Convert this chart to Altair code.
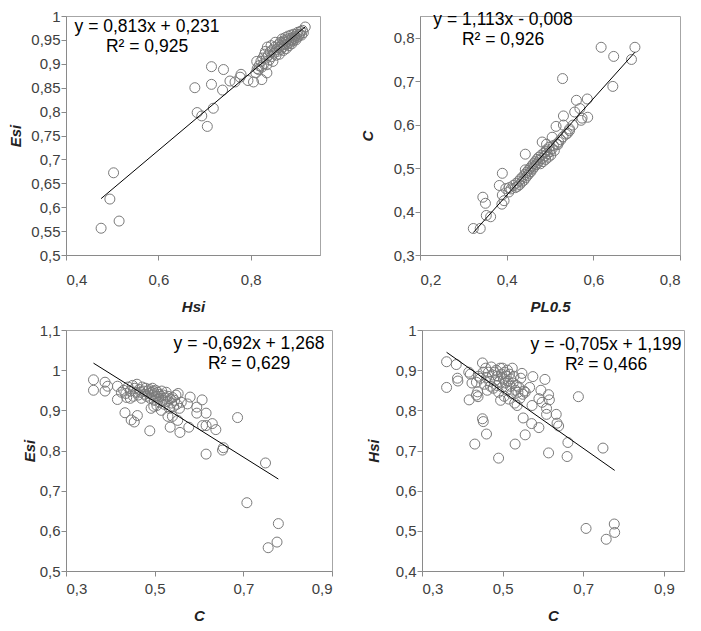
import altair as alt
import pandas as pd

# ---------------- Panel 1: Esi vs Hsi ----------------
p1_hsi = [0.476, 0.495, 0.503, 0.515, 0.679, 0.684, 0.694, 0.706, 0.715, 0.715, 0.719, 0.741, 0.739,
          0.755, 0.766, 0.779, 0.777, 0.794, 0.806, 0.824, 0.811, 0.817, 0.824, 0.813, 0.835, 0.835,
          0.814, 0.818,
          0.822, 0.826, 0.828, 0.830, 0.832, 0.834, 0.836, 0.838, 0.840, 0.842, 0.844, 0.845, 0.847,
          0.848, 0.850, 0.852, 0.853, 0.855, 0.856, 0.858, 0.860, 0.861, 0.862, 0.864, 0.865, 0.866,
          0.868, 0.869, 0.870, 0.871, 0.872, 0.874, 0.875, 0.876, 0.877, 0.878, 0.880, 0.881, 0.882,
          0.883, 0.884, 0.886, 0.887, 0.888, 0.889, 0.890, 0.892, 0.893, 0.894, 0.896, 0.898, 0.899,
          0.900, 0.902, 0.904, 0.906, 0.908, 0.910, 0.912, 0.914, 0.918]
p1_esi = [0.556, 0.617, 0.672, 0.571, 0.850, 0.798, 0.791, 0.769, 0.894, 0.857, 0.807, 0.888, 0.845,
          0.864, 0.862, 0.878, 0.872, 0.865, 0.862, 0.867, 0.881, 0.888, 0.893, 0.905, 0.881, 0.898,
          0.890, 0.896,
          0.905, 0.912, 0.900, 0.920, 0.926, 0.912, 0.935, 0.918, 0.908, 0.925, 0.938, 0.915, 0.929,
          0.905, 0.922, 0.935, 0.945, 0.918, 0.930, 0.926, 0.940, 0.934, 0.920, 0.945, 0.930, 0.938,
          0.952, 0.942, 0.935, 0.928, 0.948, 0.940, 0.955, 0.945, 0.932, 0.950, 0.942, 0.958, 0.948,
          0.938, 0.953, 0.945, 0.960, 0.950, 0.942, 0.955, 0.948, 0.962, 0.953, 0.958, 0.950, 0.962,
          0.955, 0.966, 0.958, 0.962, 0.968, 0.960, 0.970, 0.965, 0.977]

# ---------------- Panel 2: C vs PL0.5 ----------------
p2_pl = [0.323, 0.339, 0.345, 0.353, 0.363, 0.351, 0.383, 0.390, 0.390, 0.389, 0.394, 0.398, 0.406,
         0.443, 0.443, 0.482, 0.491, 0.492, 0.505, 0.514, 0.531, 0.529, 0.561, 0.586, 0.587, 0.569,
         0.574, 0.572, 0.553, 0.557, 0.545, 0.537, 0.531, 0.518, 0.618, 0.647, 0.645, 0.688, 0.696,
         0.405, 0.410, 0.415, 0.420, 0.422, 0.425, 0.428, 0.430, 0.432, 0.435, 0.437, 0.440, 0.442,
         0.444, 0.446, 0.448, 0.450, 0.452, 0.454, 0.456, 0.458, 0.460, 0.462, 0.464, 0.466, 0.468,
         0.470, 0.472, 0.474, 0.476, 0.478, 0.480, 0.482, 0.484, 0.486, 0.488, 0.490, 0.492, 0.494,
         0.496, 0.498, 0.500, 0.502, 0.505, 0.508, 0.510, 0.515, 0.520, 0.525, 0.530, 0.540, 0.545]
p2_c = [0.361, 0.361, 0.433, 0.391, 0.388, 0.419, 0.460, 0.488, 0.438, 0.417, 0.425, 0.453, 0.455,
        0.532, 0.496, 0.560, 0.538, 0.555, 0.571, 0.596, 0.620, 0.706, 0.656, 0.659, 0.617, 0.637,
        0.615, 0.610, 0.599, 0.629, 0.586, 0.578, 0.599, 0.554, 0.778, 0.757, 0.688, 0.750, 0.778,
        0.445, 0.452, 0.460, 0.455, 0.465, 0.458, 0.470, 0.462, 0.475, 0.468, 0.480, 0.472, 0.485,
        0.478, 0.490, 0.483, 0.495, 0.488, 0.500, 0.492, 0.505, 0.498, 0.510, 0.503, 0.515, 0.508,
        0.520, 0.512, 0.525, 0.518, 0.510, 0.530, 0.522, 0.515, 0.535, 0.528, 0.520, 0.542, 0.533,
        0.525, 0.548, 0.538, 0.530, 0.545, 0.552, 0.540, 0.555, 0.560, 0.565, 0.572, 0.580, 0.590]

# ---------------- Panel 3: Esi vs C ----------------
p3_c = [0.362, 0.362, 0.388, 0.388, 0.394, 0.416, 0.416, 0.433, 0.437, 0.447, 0.454, 0.461, 0.489,
        0.535, 0.557, 0.577, 0.574, 0.580, 0.595, 0.595, 0.607, 0.616, 0.608, 0.616, 0.630, 0.638,
        0.616, 0.653, 0.655, 0.687, 0.750, 0.708, 0.756, 0.776, 0.779,
        0.430, 0.435, 0.440, 0.445, 0.450, 0.452, 0.455, 0.458, 0.460, 0.463, 0.465, 0.468, 0.470,
        0.472, 0.475, 0.477, 0.480, 0.482, 0.484, 0.486, 0.488, 0.490, 0.492, 0.494, 0.495, 0.497,
        0.499, 0.500, 0.502, 0.504, 0.505, 0.507, 0.509, 0.510, 0.512, 0.514, 0.516, 0.518, 0.520,
        0.522, 0.524, 0.526, 0.528, 0.530, 0.533, 0.535, 0.538, 0.540, 0.543, 0.545, 0.548, 0.550,
        0.553, 0.556, 0.560, 0.492, 0.498, 0.515, 0.530, 0.540, 0.552, 0.445, 0.425]
p3_esi = [0.976, 0.950, 0.970, 0.948, 0.960, 0.960, 0.927, 0.894, 0.932, 0.876, 0.871, 0.887, 0.849,
          0.858, 0.845, 0.858, 0.916, 0.933, 0.908, 0.893, 0.926, 0.893, 0.862, 0.862, 0.867, 0.852,
          0.791, 0.801, 0.807, 0.882, 0.769, 0.670, 0.558, 0.572, 0.618,
          0.950, 0.942, 0.958, 0.948, 0.962, 0.935, 0.955, 0.945, 0.965, 0.938, 0.952, 0.945, 0.930,
          0.958, 0.948, 0.940, 0.955, 0.935, 0.948, 0.942, 0.952, 0.930, 0.945, 0.938, 0.955, 0.948,
          0.925, 0.942, 0.950, 0.935, 0.912, 0.945, 0.928, 0.940, 0.920, 0.935, 0.948, 0.925, 0.938,
          0.915, 0.930, 0.945, 0.922, 0.935, 0.905, 0.928, 0.918, 0.932, 0.910, 0.925, 0.938, 0.915,
          0.942, 0.905, 0.920, 0.905, 0.910, 0.900, 0.885, 0.885, 0.875, 0.930, 0.945]

# ---------------- Panel 4: Hsi vs C ----------------
p4_c = [0.361, 0.361, 0.388, 0.389, 0.385, 0.416, 0.417, 0.424, 0.431, 0.435, 0.439, 0.438, 0.450,
        0.452, 0.460, 0.490, 0.531, 0.551, 0.556, 0.572, 0.590, 0.573, 0.575, 0.567, 0.595, 0.590,
        0.598, 0.605, 0.609, 0.609, 0.614, 0.616, 0.614, 0.633, 0.639, 0.635, 0.662, 0.660, 0.688,
        0.749, 0.707, 0.757, 0.777, 0.778,
        0.445, 0.450, 0.452, 0.455, 0.458, 0.460, 0.462, 0.465, 0.468, 0.470, 0.472, 0.475, 0.477,
        0.480, 0.482, 0.484, 0.486, 0.488, 0.490, 0.492, 0.494, 0.495, 0.497, 0.499, 0.500, 0.502,
        0.504, 0.505, 0.507, 0.509, 0.510, 0.512, 0.514, 0.515, 0.517, 0.519, 0.520, 0.522, 0.524,
        0.526, 0.528, 0.530, 0.532, 0.534, 0.536, 0.538, 0.540, 0.543, 0.545, 0.548, 0.550, 0.553,
        0.556, 0.420, 0.435, 0.440]
p4_hsi = [0.921, 0.857, 0.880, 0.873, 0.914, 0.895, 0.826, 0.868, 0.716, 0.838, 0.834, 0.846, 0.779,
          0.772, 0.741, 0.681, 0.716, 0.781, 0.739, 0.767, 0.757, 0.812, 0.884, 0.857, 0.850, 0.829,
          0.820, 0.877, 0.805, 0.790, 0.839, 0.826, 0.694, 0.790, 0.761, 0.768, 0.720, 0.685, 0.834,
          0.706, 0.506, 0.479, 0.517, 0.496,
          0.880, 0.918, 0.895, 0.865, 0.905, 0.882, 0.850, 0.895, 0.872, 0.860, 0.908, 0.888, 0.855,
          0.895, 0.875, 0.900, 0.862, 0.885, 0.845, 0.872, 0.905, 0.825, 0.890, 0.858, 0.905, 0.878,
          0.835, 0.895, 0.868, 0.885, 0.850, 0.900, 0.872, 0.828, 0.890, 0.860, 0.878, 0.842, 0.905,
          0.868, 0.885, 0.818, 0.850, 0.862, 0.812, 0.845, 0.858, 0.830, 0.880, 0.892, 0.840, 0.848,
          0.845, 0.890, 0.870, 0.885]

# regression equations (as printed on the chart)
p1_fit = (0.813, 0.231)
p2_fit = (1.113, -0.008)
p3_fit = (-0.692, 1.268)
p4_fit = (-0.705, 1.199)

p1_text = ["y = 0,813x + 0,231", "R² = 0,925"]
p2_text = ["y = 1,113x - 0,008", "R² = 0,926"]
p3_text = ["y = -0,692x + 1,268", "R² = 0,629"]
p4_text = ["y = -0,705x + 1,199", "R² = 0,466"]

FONT = "Liberation Sans"
GRAY = "#8a8a8a"
LABEL_EXPR = "replace(format(datum.value, '~g'), '.', ',')"


def panel(xs, ys, fit, texts, xtitle, ytitle, xdom, xticks, ydom, yticks, text_x, text_y, w, h,
          xlabpad, xtitpad, ytitpad):
    df = pd.DataFrame({"x": xs, "y": ys})
    xmin, xmax = min(xs), max(xs)
    a, b = fit
    ldf = pd.DataFrame({"x": [xmin, xmax], "y": [a * xmin + b, a * xmax + b]})
    xaxis = alt.Axis(title=xtitle, values=xticks, labelExpr=LABEL_EXPR, labelOverlap=False,
                     labelPadding=xlabpad, titlePadding=xtitpad, grid=False)
    yaxis = alt.Axis(title=ytitle, values=yticks, labelExpr=LABEL_EXPR, labelOverlap=False,
                     labelPadding=1, titlePadding=ytitpad, grid=False)
    xenc = alt.X("x:Q", scale=alt.Scale(domain=xdom, nice=False, zero=False), axis=xaxis)
    yenc = alt.Y("y:Q", scale=alt.Scale(domain=ydom, nice=False, zero=False), axis=yaxis)
    pts = alt.Chart(df).mark_point(shape="circle", filled=False, size=100,
                                   stroke="#7a7a7a", strokeWidth=1, opacity=1).encode(x=xenc, y=yenc)
    line = alt.Chart(ldf).mark_line(color="black", strokeWidth=1).encode(x=xenc, y=yenc)
    t1 = alt.Chart(pd.DataFrame({"t": [texts[0]]})).mark_text(
        font=FONT, fontSize=17.5, color="black", align="center", baseline="middle").encode(
        text="t:N", x=alt.value(text_x), y=alt.value(text_y))
    t2 = alt.Chart(pd.DataFrame({"t": [texts[1]]})).mark_text(
        font=FONT, fontSize=17.5, color="black", align="center", baseline="middle").encode(
        text="t:N", x=alt.value(text_x), y=alt.value(text_y + 20))
    return alt.layer(pts, line, t1, t2).properties(width=w, height=h)


c1 = panel(p1_hsi, p1_esi, p1_fit, p1_text, "Hsi", "Esi", [0.4, 0.95], [0.4, 0.6, 0.8],
           [0.5, 1.0], [0.5, 0.55, 0.6, 0.65, 0.7, 0.75, 0.8, 0.85, 0.9, 0.95, 1.0], 81, 11, 254, 239,
           12, 12, 7)
c2 = panel(p2_pl, p2_c, p2_fit, p2_text, "PL0.5", "C", [0.2, 0.8], [0.2, 0.4, 0.6, 0.8],
           [0.3, 0.85], [0.3, 0.4, 0.5, 0.6, 0.7, 0.8], 83, 4, 260, 239,
           12, 12, 18)
c3 = panel(p3_c, p3_esi, p3_fit, p3_text, "C", "Esi", [0.3, 0.9], [0.3, 0.5, 0.7, 0.9],
           [0.5, 1.1], [0.5, 0.6, 0.7, 0.8, 0.9, 1.0, 1.1], 183, 14, 266, 241,
           5, 12, 2)
c4 = panel(p4_c, p4_hsi, p4_fit, p4_text, "C", "Hsi", [0.3, 0.95], [0.3, 0.5, 0.7, 0.9],
           [0.4, 1.0], [0.4, 0.5, 0.6, 0.7, 0.8, 0.9, 1.0], 184, 15, 262, 241,
           5, 12, 14)

chart = alt.vconcat(
    alt.hconcat(c1, c2, spacing=38),
    alt.hconcat(c3, c4, spacing=32),
    spacing=7,
).properties(
    padding={"left": 0, "right": 0, "top": 0, "bottom": 0}
).configure_view(
    stroke="#a6a6a6", strokeWidth=1
).configure_axis(
    grid=False,
    domainColor=GRAY, tickColor=GRAY, tickSize=5,
    labelFont=FONT, labelFontSize=15, labelColor="#404040",
    titleFont=FONT, titleFontSize=15, titleFontWeight="bold", titleFontStyle="italic",
    titleColor="#222222",
)

chart.save("out.html", embed_options={"renderer": "svg", "actions": False})
